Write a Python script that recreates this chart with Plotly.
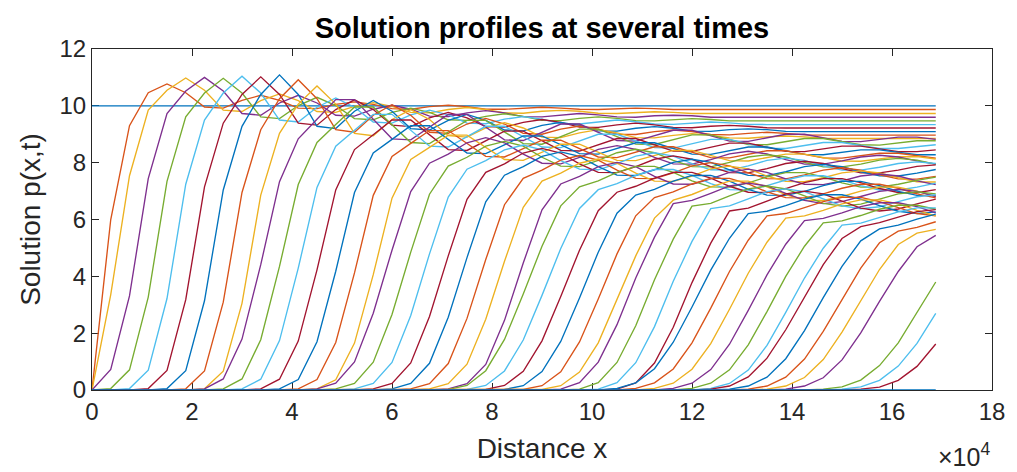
import plotly.graph_objects as go

# Spatial grid (metres)
x_grid = [0, 3750, 7500, 11250, 15000, 18750, 22500, 26250, 30000, 33750,
          37500, 41250, 45000, 48750, 52500, 56250, 60000, 63750, 67500, 71250,
          75000, 78750, 82500, 86250, 90000, 93750, 97500, 101250, 105000, 108750,
          112500, 116250, 120000, 123750, 127500, 131250, 135000, 138750, 142500, 146250,
          150000, 153750, 157500, 161250, 165000, 168750]

initial_level = 10.0   # p(x,0)
final_level = 0.0      # last stored profile

# Intermediate profiles: first grid index where p leaves zero, then the values
# from that index on.  The first nine profiles settle to a constant far-field
# level before the right end.
profile_start = [1, 1, 1, 1, 2, 3, 4, 5, 6, 6, 7, 8, 9, 10, 11, 12,
                 12, 13, 14, 15, 16, 17, 18, 19, 19, 20, 21, 22, 23, 24, 25, 26,
                 27, 28, 28, 29, 30, 31, 32, 33, 33, 34, 35, 36, 37, 39, 40, 41]

far_field_level = [9.87, 9.73, 9.60, 9.47, 9.34, 9.22, 9.09, 8.97, 8.85]

profile_values_early = [
    [6.0, 9.3, 10.46, 10.77, 10.46, 9.96, 9.92, 10.19, 10.37, 10.19, 9.92, 9.9, 10.05, 10.14, 10.05,
     9.9, 9.88, 9.97, 10.02, 9.97, 9.88, 9.88, 9.92, 9.95, 9.92, 9.88, 9.87, 9.9, 9.92, 9.9],
    [3.36, 7.54, 9.85, 10.55, 10.98, 10.55, 9.85, 9.8, 10.18, 10.42, 10.18, 9.8, 9.77, 9.98, 10.11,
     9.98, 9.77, 9.75, 9.87, 9.94, 9.87, 9.75, 9.74, 9.81, 9.84, 9.81, 9.74, 9.73, 9.77, 9.79, 9.77, 9.73],
    [0.72, 3.31, 7.44, 9.73, 10.52, 11.0, 10.52, 9.73, 9.67, 10.1, 10.37, 10.1, 9.67, 9.64, 9.88,
     10.02, 9.88, 9.64, 9.62, 9.75, 9.83, 9.75, 9.62, 9.61, 9.68, 9.73, 9.68, 9.61, 9.6, 9.65, 9.67, 9.65, 9.6],
    [0.05, 0.71, 3.27, 7.34, 9.61, 10.45, 10.97, 10.45, 9.61, 9.55, 10.01, 10.3, 10.01, 9.55, 9.51,
     9.77, 9.92, 9.77, 9.51, 9.49, 9.63, 9.72, 9.63, 9.49, 9.48, 9.56, 9.61, 9.56, 9.48, 9.47, 9.52, 9.55, 9.52, 9.47],
    [0.05, 0.7, 3.22, 7.24, 9.5, 10.45, 11.04, 10.45, 9.5, 9.43, 9.95, 10.28, 9.95, 9.43, 9.39,
     9.68, 9.85, 9.68, 9.39, 9.37, 9.53, 9.62, 9.53, 9.37, 9.36, 9.44, 9.5, 9.44, 9.36, 9.35, 9.4, 9.43, 9.4, 9.35],
    [0.05, 0.69, 3.18, 7.15, 9.39, 10.4, 11.02, 10.4, 9.39, 9.32, 9.87, 10.21, 9.87, 9.32, 9.27,
     9.58, 9.77, 9.58, 9.27, 9.25, 9.42, 9.52, 9.42, 9.25, 9.24, 9.33, 9.39, 9.33, 9.24, 9.23, 9.28, 9.31, 9.28, 9.23],
    [0.05, 0.68, 3.14, 7.04, 9.28, 10.4, 11.09, 10.4, 9.28, 9.2, 9.81, 10.19, 9.81, 9.2, 9.15,
     9.49, 9.7, 9.49, 9.15, 9.12, 9.31, 9.42, 9.31, 9.12, 9.11, 9.21, 9.27, 9.21, 9.11, 9.1, 9.16, 9.19, 9.16, 9.1],
    [0.04, 0.67, 3.09, 6.95, 9.16, 10.25, 10.92, 10.25, 9.16, 9.07, 9.67, 10.04, 9.67, 9.07, 9.03,
     9.36, 9.56, 9.36, 9.03, 9.0, 9.18, 9.29, 9.18, 9.0, 8.99, 9.09, 9.15, 9.09, 8.99, 8.98, 9.03, 9.07, 9.03, 8.98],
    [0.04, 0.66, 3.05, 6.86, 9.03, 10.06, 10.7, 10.06, 9.03, 8.95, 9.52, 9.87, 9.52, 8.95, 8.9,
     9.22, 9.41, 9.22, 8.9, 8.88, 9.05, 9.16, 9.05, 8.88, 8.87, 8.96, 9.02, 8.96, 8.87, 8.86, 8.91, 8.94, 8.91, 8.86],
    [0.04, 0.39, 1.79, 4.41, 7.33, 8.84, 9.53, 10.22, 10.22, 9.53, 8.84, 8.8, 9.25, 9.7, 9.7, 9.25, 8.8, 8.78,
     9.07, 9.36, 9.36, 9.07, 8.78, 8.76, 8.95, 9.14, 9.14, 8.95, 8.76, 8.75, 8.87, 9.0, 9.0, 8.87, 8.75, 8.74,
     8.82, 8.9, 8.9, 8.82],
    [0.04, 0.39, 1.77, 4.35, 7.23, 8.71, 9.34, 9.96, 9.96, 9.34, 8.71, 8.67, 9.08, 9.49, 9.49, 9.08, 8.67, 8.65,
     8.92, 9.18, 9.18, 8.92, 8.65, 8.64, 8.81, 8.98, 8.98, 8.81, 8.64, 8.63, 8.74, 8.85, 8.85, 8.74, 8.63, 8.62,
     8.69, 8.77, 8.77],
    [0.04, 0.38, 1.74, 4.29, 7.13, 8.58, 9.14, 9.7, 9.7, 9.14, 8.58, 8.55, 8.91, 9.28, 9.28, 8.91, 8.55, 8.53,
     8.76, 9.0, 9.0, 8.76, 8.53, 8.51, 8.67, 8.82, 8.82, 8.67, 8.51, 8.5, 8.61, 8.71, 8.71, 8.61, 8.5, 8.5,
     8.57, 8.63],
    [0.04, 0.38, 1.72, 4.23, 7.04, 8.46, 8.98, 9.5, 9.5, 8.98, 8.46, 8.43, 8.77, 9.11, 9.11, 8.77, 8.43, 8.41,
     8.63, 8.85, 8.85, 8.63, 8.41, 8.4, 8.54, 8.69, 8.69, 8.54, 8.4, 8.39, 8.49, 8.58, 8.58, 8.49, 8.39, 8.39, 8.45],
    [0.04, 0.37, 1.7, 4.18, 6.95, 8.34, 8.82, 9.3, 9.3, 8.82, 8.34, 8.32, 8.63, 8.94, 8.94, 8.63, 8.32, 8.3,
     8.5, 8.7, 8.7, 8.5, 8.3, 8.29, 8.42, 8.55, 8.55, 8.42, 8.29, 8.28, 8.37, 8.45, 8.45, 8.37, 8.28, 8.28],
    [0.04, 0.37, 1.67, 4.12, 6.85, 8.22, 8.68, 9.13, 9.13, 8.68, 8.22, 8.2, 8.49, 8.79, 8.79, 8.49, 8.2, 8.18,
     8.37, 8.56, 8.56, 8.37, 8.18, 8.17, 8.29, 8.42, 8.42, 8.29, 8.17, 8.16, 8.24, 8.33, 8.33, 8.24, 8.16],
    [0.04, 0.36, 1.65, 4.06, 6.75, 8.11, 8.54, 8.97, 8.97, 8.54, 8.11, 8.08, 8.37, 8.65, 8.65, 8.37, 8.08, 8.07,
     8.25, 8.43, 8.43, 8.25, 8.07, 8.06, 8.18, 8.3, 8.3, 8.18, 8.06, 8.05, 8.13, 8.21, 8.21, 8.13],
]

profile_values_mid = [
    [0.04, 0.24, 0.99, 2.7, 4.92, 6.98, 7.98, 8.3, 8.7, 8.88, 8.7, 8.3, 7.98, 7.96, 8.19, 8.47, 8.6, 8.47,
     8.19, 7.96, 7.95, 8.11, 8.31, 8.4, 8.31, 8.11, 7.95, 7.95, 8.06, 8.2, 8.26, 8.2, 8.06, 7.95],
    [0.04, 0.23, 0.98, 2.66, 4.85, 6.89, 7.88, 8.19, 8.58, 8.75, 8.58, 8.19, 7.88, 7.86, 8.08, 8.35, 8.47, 8.35,
     8.08, 7.86, 7.85, 8.01, 8.2, 8.28, 8.2, 8.01, 7.85, 7.85, 7.95, 8.09, 8.15, 8.09, 7.95],
    [0.04, 0.23, 0.97, 2.62, 4.79, 6.79, 7.77, 8.07, 8.45, 8.62, 8.45, 8.07, 7.77, 7.75, 7.97, 8.23, 8.35, 8.23,
     7.97, 7.75, 7.74, 7.89, 8.08, 8.16, 8.08, 7.89, 7.74, 7.74, 7.84, 7.97, 8.03, 7.97],
    [0.04, 0.23, 0.95, 2.59, 4.72, 6.71, 7.66, 7.96, 8.34, 8.5, 8.34, 7.96, 7.66, 7.65, 7.86, 8.12, 8.24, 8.12,
     7.86, 7.65, 7.64, 7.79, 7.97, 8.05, 7.97, 7.79, 7.64, 7.64, 7.74, 7.87, 7.92],
    [0.04, 0.23, 0.94, 2.56, 4.66, 6.62, 7.56, 7.86, 8.22, 8.38, 8.22, 7.86, 7.56, 7.55, 7.75, 8.01, 8.12, 8.01,
     7.75, 7.55, 7.54, 7.68, 7.86, 7.94, 7.86, 7.68, 7.54, 7.53, 7.63, 7.76],
    [0.04, 0.22, 0.93, 2.52, 4.59, 6.52, 7.45, 7.74, 8.09, 8.25, 8.09, 7.74, 7.45, 7.44, 7.64, 7.89, 8.0, 7.89,
     7.64, 7.44, 7.43, 7.57, 7.74, 7.82, 7.74, 7.57, 7.43, 7.42, 7.52],
    [0.04, 0.22, 0.91, 2.49, 4.53, 6.43, 7.35, 7.63, 7.98, 8.13, 7.98, 7.63, 7.35, 7.34, 7.53, 7.78, 7.88, 7.78,
     7.53, 7.34, 7.33, 7.47, 7.64, 7.71, 7.64, 7.47, 7.33, 7.32],
    [0.04, 0.22, 0.9, 2.45, 4.47, 6.34, 7.25, 7.52, 7.86, 8.01, 7.86, 7.52, 7.25, 7.24, 7.43, 7.66, 7.77, 7.66,
     7.43, 7.24, 7.23, 7.36, 7.53, 7.6, 7.53, 7.36, 7.23],
    [0.02, 0.16, 0.68, 1.78, 3.38, 5.06, 6.48, 7.15, 7.36, 7.66, 7.87, 7.87, 7.66, 7.36, 7.15, 7.14, 7.29, 7.5,
     7.65, 7.65, 7.5, 7.29, 7.14, 7.14, 7.24, 7.38, 7.49],
    [0.02, 0.16, 0.67, 1.76, 3.33, 4.98, 6.39, 7.05, 7.26, 7.55, 7.76, 7.76, 7.55, 7.26, 7.05, 7.04, 7.19, 7.39,
     7.54, 7.54, 7.39, 7.19, 7.04, 7.04, 7.14, 7.28],
    [0.02, 0.16, 0.66, 1.73, 3.29, 4.92, 6.31, 6.96, 7.17, 7.46, 7.66, 7.66, 7.46, 7.17, 6.96, 6.95, 7.09, 7.3,
     7.44, 7.44, 7.3, 7.09, 6.95, 6.94, 7.05],
    [0.02, 0.15, 0.65, 1.71, 3.24, 4.85, 6.22, 6.86, 7.06, 7.35, 7.55, 7.55, 7.35, 7.06, 6.86, 6.85, 6.99, 7.19,
     7.34, 7.34, 7.19, 6.99, 6.85, 6.84],
    [0.02, 0.15, 0.64, 1.69, 3.2, 4.79, 6.13, 6.77, 6.97, 7.25, 7.45, 7.45, 7.25, 6.97, 6.77, 6.76, 6.9, 7.1,
     7.24, 7.24, 7.1, 6.9, 6.76],
    [0.02, 0.15, 0.63, 1.66, 3.16, 4.72, 6.05, 6.68, 6.88, 7.15, 7.35, 7.35, 7.15, 6.88, 6.68, 6.67, 6.81, 7.0,
     7.14, 7.14, 7.0, 6.81],
    [0.03, 0.26, 0.98, 2.3, 3.94, 5.38, 6.56, 6.67, 6.92, 7.18, 7.28, 7.18, 6.92, 6.67, 6.56, 6.63, 6.81, 6.99,
     7.06, 6.99, 6.81],
    [0.03, 0.26, 0.97, 2.26, 3.88, 5.31, 6.47, 6.57, 6.83, 7.08, 7.18, 7.08, 6.83, 6.57, 6.47, 6.54, 6.72, 6.9,
     6.97, 6.9],
]

profile_values_late = [
    [0.03, 0.26, 0.96, 2.23, 3.83, 5.23, 6.38, 6.48, 6.73, 6.98, 7.08, 6.98, 6.73, 6.48, 6.38, 6.45, 6.63, 6.8, 6.87],
    [0.03, 0.25, 0.95, 2.21, 3.78, 5.17, 6.3, 6.4, 6.65, 6.9, 7.0, 6.9, 6.65, 6.4, 6.3, 6.37, 6.55, 6.72],
    [0.06, 0.25, 0.75, 1.68, 2.92, 4.22, 5.34, 6.21, 6.29, 6.49, 6.72, 6.87, 6.87, 6.72, 6.49, 6.29, 6.21, 6.27],
    [0.06, 0.25, 0.74, 1.66, 2.88, 4.17, 5.27, 6.13, 6.21, 6.41, 6.63, 6.78, 6.78, 6.63, 6.41, 6.21, 6.13],
    [0.06, 0.24, 0.73, 1.63, 2.84, 4.11, 5.2, 6.05, 6.13, 6.32, 6.55, 6.69, 6.69, 6.55, 6.32, 6.13],
    [0.06, 0.24, 0.72, 1.61, 2.8, 4.05, 5.13, 5.96, 6.04, 6.23, 6.45, 6.59, 6.59, 6.45, 6.23],
    [0.06, 0.24, 0.71, 1.59, 2.76, 4.0, 5.06, 5.88, 5.95, 6.14, 6.36, 6.5, 6.5, 6.36],
    [0.06, 0.23, 0.7, 1.57, 2.73, 3.94, 4.99, 5.8, 5.87, 6.06, 6.27, 6.41, 6.41],
    [0.03, 0.14, 0.46, 1.12, 2.12, 3.29, 4.41, 5.33, 5.75, 5.89, 6.09, 6.28, 6.35],
    [0.03, 0.14, 0.45, 1.1, 2.09, 3.25, 4.35, 5.25, 5.67, 5.8, 6.01, 6.19],
    [0.03, 0.14, 0.45, 1.09, 2.06, 3.2, 4.29, 5.18, 5.59, 5.72, 5.92],
    [0.03, 0.14, 0.44, 1.07, 2.04, 3.16, 4.24, 5.12, 5.52, 5.65],
    [0.03, 0.14, 0.43, 1.06, 2.01, 3.12, 4.17, 5.04, 5.44],
    [0.03, 0.11, 0.35, 0.86, 1.66, 2.73, 3.8],
    [0.03, 0.11, 0.34, 0.84, 1.64, 2.7],
    [0.03, 0.1, 0.34, 0.83, 1.62],
]

# MATLAB default line colour order
line_colors = ["#0072BD", "#D95319", "#EDB120", "#7E2F8E", "#77AC30", "#4DBEEE", "#A2142F"]

n_pts = len(x_grid)
profiles = [[initial_level] * n_pts]
all_values = profile_values_early + profile_values_mid + profile_values_late
for i, (start, vals) in enumerate(zip(profile_start, all_values)):
    row = [0.0] * start + list(vals)
    if len(row) < n_pts:
        row += [far_field_level[i]] * (n_pts - len(row))
    profiles.append(row[:n_pts])
profiles.append([final_level] * n_pts)

fig = go.Figure()
for k, p in enumerate(profiles):
    fig.add_trace(go.Scatter(
        x=x_grid, y=p, mode="lines",
        line=dict(color=line_colors[k % len(line_colors)], width=1.35),
        showlegend=False, hoverinfo="skip",
    ))

font_family = "Liberation Sans, Arial, Helvetica, sans-serif"
axis_color = "#262626"
axis_common = dict(
    showline=True, linecolor=axis_color, linewidth=1, mirror="ticks",
    ticks="inside", ticklen=7, tickwidth=1, tickcolor=axis_color,
    showgrid=False, zeroline=False,
    tickfont=dict(family=font_family, size=24, color=axis_color),
    layer="below traces",
)

fig.update_layout(
    width=1017, height=472,
    margin=dict(l=92, r=14, t=49, b=82),
    paper_bgcolor="white", plot_bgcolor="white",
    title=dict(text="<b>Solution profiles at several times</b>",
               x=0.5, xref="paper", xanchor="center",
               y=1 - 28 / 472, yref="container", yanchor="middle",
               font=dict(family=font_family, size=29, color="black")),
    xaxis=dict(range=[0, 180000],
               tickvals=[0, 20000, 40000, 60000, 80000, 100000, 120000, 140000, 160000, 180000],
               ticktext=["0", "2", "4", "6", "8", "10", "12", "14", "16", "18"],
               title=dict(text="Distance x", standoff=14,
                          font=dict(family=font_family, size=28, color=axis_color)),
               **axis_common),
    yaxis=dict(range=[0, 12], tickvals=[0, 2, 4, 6, 8, 10, 12],
               title=dict(text="Solution p(x,t)", standoff=10,
                          font=dict(family=font_family, size=28, color=axis_color)),
               **axis_common),
    annotations=[dict(text="×10<sup>4</sup>", x=1.0, xref="paper", xanchor="right",
                      y=(390 - 455) / 341, yref="paper", yanchor="middle",
                      showarrow=False,
                      font=dict(family=font_family, size=25, color=axis_color))],
)

fig.write_html("out.html")
